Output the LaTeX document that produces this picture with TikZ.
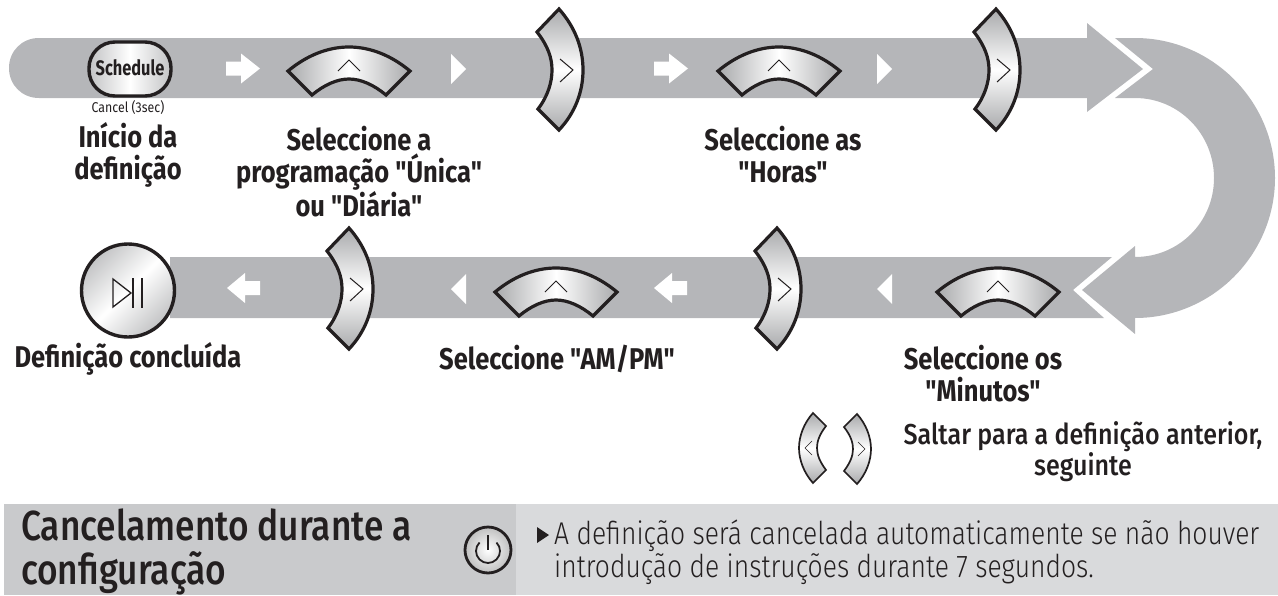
\documentclass[tikz,border=0pt]{standalone}
\usepackage{fontspec}
\setmainfont{Fira Sans}[FakeStretch=0.87]
\newfontfamily\boldf{Fira Sans}[FakeStretch=0.85,UprightFont=* Bold]
\newfontfamily\schedf{Fira Sans}[FakeStretch=0.78,UprightFont=* Bold]
\newfontfamily\medf{Fira Sans}[FakeStretch=0.87,UprightFont=* Medium]
\newfontfamily\headf{Fira Sans}[FakeStretch=0.84,UprightFont=* Medium]
\newfontfamily\regf{Fira Sans}[FakeStretch=0.87]
\newfontfamily\bodyf{Fira Sans}[FakeStretch=0.84,UprightFont=* Light]
\usetikzlibrary{shadings}
\definecolor{band}{HTML}{B5B6B9}
\definecolor{panelA}{HTML}{C9CACC}
\definecolor{panelB}{HTML}{D9DADC}
\definecolor{ink}{HTML}{231F20}
\definecolor{shade}{HTML}{A9AAAC}
\tikzset{
  bandfill/.style={fill=band,draw=none},
  btn/.style={draw=ink,line width=3.2pt,line join=miter},
  chev/.style={draw=ink,line width=1pt,fill=none},
  flow/.style={fill=white,draw=none},
  title/.style={font=\boldf\fontsize{30}{32}\selectfont,text=ink,align=center,inner sep=0pt},
  pics/vbtn/.style={code={
    \draw[btn,top color=shade,bottom color=shade,middle color=white]
      (-2,-61) -- (-24,-38) .. controls (-13,-24) and (-9,-12) .. (-9,0)
      .. controls (-9,12) and (-13,26) .. (-23,39) -- (-2,60)
      .. controls (14,43) and (22,22) .. (22,0) .. controls (22,-22) and (14,-43) .. (-2,-61) -- cycle;
    \draw[chev] (-1,-11) -- (12,0) -- (-1,12);
  }},
  pics/hbtn/.style={code={
    \draw[btn,left color=shade,right color=shade,middle color=white]
      (-61,1) .. controls (-43,-14) and (-22,-23) .. (0,-23)
      .. controls (22,-23) and (43,-14) .. (61,1) -- (37,25)
      .. controls (25,15) and (12,9) .. (0,9)
      .. controls (-12,9) and (-25,15) .. (-37,25) -- cycle;
    \draw[chev] (-11,1) -- (0,-10) -- (11,1);
  }},
  pics/smallv/.style={code={
    \draw[draw=ink,line width=1.7pt,top color=shade,bottom color=shade,middle color=white]
      (-1,-35) -- (-14,-22) .. controls (-7,-13) and (-5,-6) .. (-5,0)
      .. controls (-5,7) and (-8,14) .. (-14,22) -- (-1,35)
      .. controls (8,25) and (13,12) .. (13,0) .. controls (13,-12) and (8,-25) .. (-1,-35) -- cycle;
    \draw[draw=ink,line width=0.6pt] (0,-7) -- (7,0) -- (0,7);
  }},
  pics/rarrow/.style={code={\fill[flow] (-15,-7) -- (0,-7) -- (0,-15) -- (19,0) -- (0,15) -- (0,7) -- (-15,7) -- cycle;}},
  pics/larrow/.style={code={\fill[flow] (15,-7) -- (0,-7) -- (0,-15) -- (-18,0) -- (0,15) -- (0,7) -- (15,7) -- cycle;}},
  pics/rtri/.style={code={\fill[flow] (-7,-15) -- (8,0) -- (-7,15) -- cycle;}},
  pics/ltri/.style={code={\fill[flow] (7,-15) -- (-8,0) -- (7,15) -- cycle;}},
}
\begin{document}
\begin{tikzpicture}[x=1pt,y=-1pt]
\useasboundingbox (0,0) rectangle (1278,595);
% upper band with arrow head
\fill[bandfill] (39,38) -- (1087,38) -- (1087,23) -- (1143,69) -- (1087,112) -- (1087,98) -- (39,98)
  .. controls (22,98) and (9,85) .. (9,68) .. controls (9,51) and (22,38) .. (39,38) -- cycle;
% curved band with arrow head
\fill[bandfill] (1115,38) -- (1135,38)
  .. controls (1212,38) and (1275,101) .. (1275,178)
  .. controls (1275,255) and (1212,318) .. (1135,318)
  -- (1135,334) -- (1082,290) -- (1135,246) -- (1135,257)
  .. controls (1179,257) and (1214,222) .. (1214,178)
  .. controls (1214,134) and (1179,98) .. (1135,98)
  -- (1115,98) -- (1153,69) -- cycle;
% lower band
\fill[bandfill] (170,257) -- (1112,257) -- (1073,290) -- (1104,318) -- (170,318) -- cycle;
% buttons upper row
\draw[btn,line width=3.4pt,left color=shade!70,right color=shade!70,middle color=white,rounded corners=26pt]
  (89,42) rectangle (171,96);
\node[inner sep=0pt,text=ink] (sched) at (130,68) {\schedf\fontsize{21}{22}\selectfont Schedule};
\node[inner sep=0pt,text=ink] (cancel) at (128,108) {\regf\fontsize{14.2}{18}\selectfont Cancel (3sec)};
\pic at (241,68.5) {rarrow};
\pic at (349,70) {hbtn};
\pic at (458,69) {rtri};
\pic at (561,70) {vbtn};
\pic at (669,68.5) {rarrow};
\pic at (779,70) {hbtn};
\pic at (884,69) {rtri};
\pic at (998,70) {vbtn};
% lower row
\draw[btn,line width=3.4pt,top color=shade!70,bottom color=shade!70,middle color=white,shading angle=45] (128,290.5) circle[radius=46.5];
\draw[ink,line width=1.3pt,line join=miter] (113,279) -- (113,307) -- (131,293) -- cycle;
\draw[ink,line width=1.3pt] (133,278) -- (133,308);
\draw[ink,line width=1.3pt] (142,278) -- (142,308);
\pic at (245,288) {larrow};
\pic at (351,289) {vbtn};
\pic at (459,289) {ltri};
\pic at (556,291) {hbtn};
\pic at (672,288) {larrow};
\pic at (779,289) {vbtn};
\pic at (885,289) {ltri};
\pic at (998,291) {hbtn};
% titles
\node[title] (t1) at (128,155) {Início da\\definição};
\node[title] (t2) at (359,172) {Seleccione a\\programação "Única"\\ou "Diária"};
\node[title] (t3) at (783,155) {Seleccione as\\"Horas"};
\node[title] (t4) at (128,359) {Definição concluída};
\node[title] (t5) at (557,359) {Seleccione "AM/PM"};
\node[title] (t6) at (983,374) {Seleccione os\\"Minutos"};
% small buttons
\pic[xscale=-1] at (812,448) {smallv};
\pic at (858,449) {smallv};
\node[align=center,inner sep=0pt,text=ink,font=\medf\fontsize{28.8}{31}\selectfont] (t7) at (1083,452) {Saltar para a definição anterior,\\seguinte};
% bottom panel
\fill[panelA] (4,504) rectangle (516,595);
\fill[panelB] (516,504) rectangle (1278,595);
\node[anchor=west,inner sep=0pt,align=left,text=ink,font=\headf\fontsize{42}{44}\selectfont] (c1) at (21,552) {Cancelamento durante a\\configuração};
\draw[ink,line width=2.8pt,inner color=white,outer color=white!75!black] (488,550) circle[radius=23];
\draw[ink,line width=1.8pt] (496.5,542.5) arc[start angle=-45,end angle=225,radius=12];
\draw[ink,line width=2.2pt] (488,535) -- (488,550);
\fill[ink] (537,527) -- (549,535) -- (537,543) -- cycle;
\node[anchor=west,inner sep=0pt,align=left,text=ink,font=\bodyf\fontsize{31.5}{33}\selectfont] (c3) at (554,552) {A definição será cancelada automaticamente se não houver\\introdução de instruções durante 7 segundos.};
\end{tikzpicture}
\end{document}
